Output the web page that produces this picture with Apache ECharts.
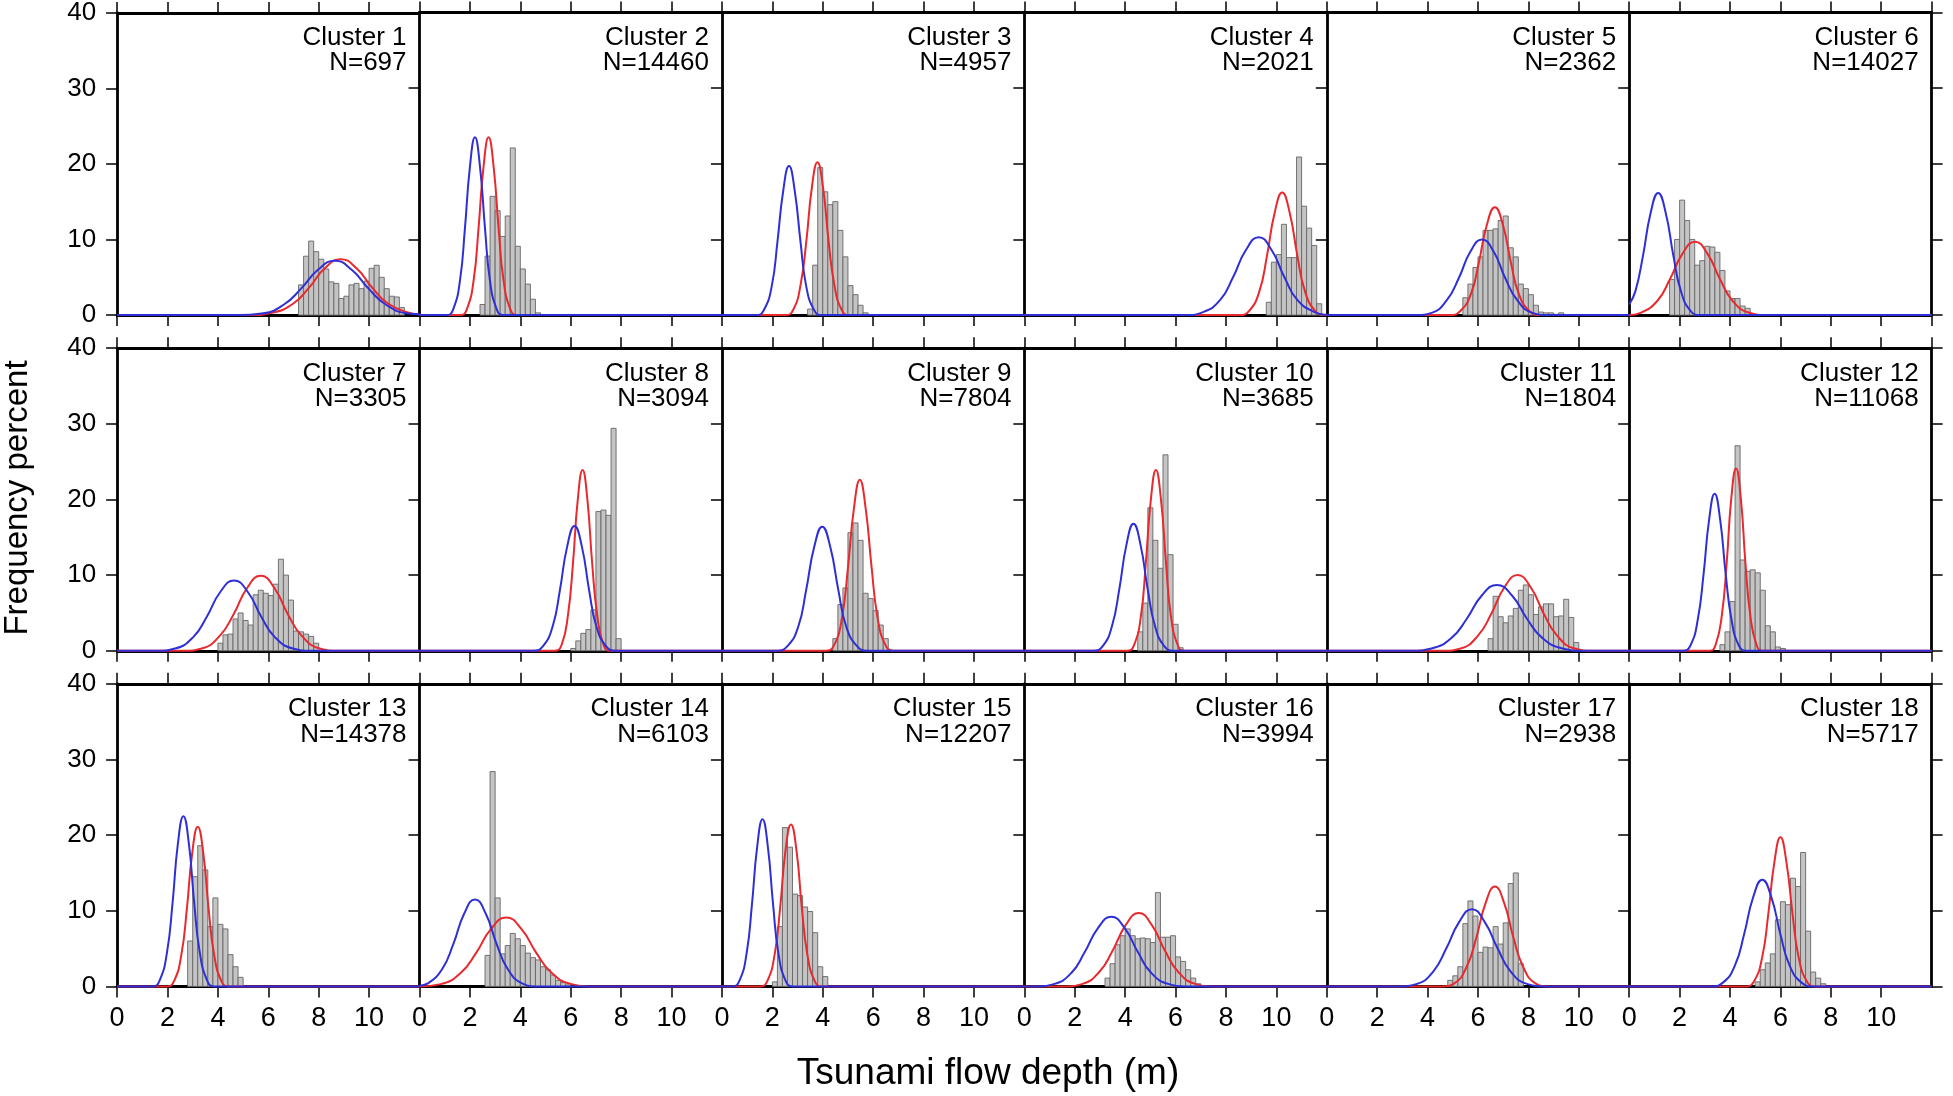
<!DOCTYPE html>
<html><head><meta charset="utf-8">
<script src="https://cdn.jsdelivr.net/npm/echarts@6/dist/echarts.min.js"></script>
<style>html,body{margin:0;padding:0;background:#fff}#c{width:1953px;height:1096px}</style>
</head><body><div id="c"></div>
<script>
// ---------------- DATA ----------------
const clusterNames = ['Cluster 1','Cluster 2','Cluster 3','Cluster 4','Cluster 5','Cluster 6','Cluster 7','Cluster 8','Cluster 9','Cluster 10','Cluster 11','Cluster 12','Cluster 13','Cluster 14','Cluster 15','Cluster 16','Cluster 17','Cluster 18'];
const clusterN = [697,14460,4957,2021,2362,14027,3305,3094,7804,3685,1804,11068,14378,6103,12207,3994,2938,5717];
const xTickValues = [0,2,4,6,8,10,12];
const yTickValues = [0,10,20,30,40];
const binWidth = 0.2;

// histogram: first bin left edge (m) for each cluster, and bar heights (%)
const histStart = [7.2,2.4,3.4,9.6,5.4,1.6,4.0,6.0,4.4,4.5,6.4,3.6,2.8,2.6,2.0,3.2,4.8,5.0];
const hist01 = [4.0,7.8,9.8,8.4,7.4,6.1,4.4,4.2,2.2,2.5,4.0,4.2,3.5,4.5,6.2,6.6,5.0,3.5,2.5,2.4,1.0];
const hist02 = [1.4,7.8,15.7,13.8,10.4,13.1,22.1,9.1,6.1,4.1,2.1,0.3];
const hist03 = [0.8,6.6,19.5,16.3,14.6,15.0,11.2,7.7,3.9,2.7,1.3,0.3];
const hist04 = [1.7,7.0,8.0,12.0,7.6,7.6,20.9,14.4,11.5,9.2,1.5];
const hist05 = [2.3,4.1,6.3,7.7,11.2,11.2,11.4,12.5,13.1,8.9,7.7,4.1,3.5,2.7,1.3,0.4,0.3,0.3,0.1,0.3];
const hist06 = [4.7,10.0,15.2,12.5,10.0,6.6,7.2,9.1,9.0,8.3,5.9,3.2,2.2,2.2,1.2,0.9];
const hist07 = [1.0,2.1,2.2,4.2,5.0,4.0,3.4,7.4,8.0,7.6,7.3,8.8,12.1,10.0,6.7,2.6,2.5,2.2,1.9,1.0];
const hist08 = [0.3,1.3,2.3,2.8,5.4,18.4,18.6,17.9,29.4,1.6];
const hist09 = [1.6,6.1,8.3,15.6,16.9,14.6,7.6,6.9,5.3,3.4,1.6];
const hist10 = [2.5,6.3,18.9,14.6,10.9,25.9,12.7,3.5,0.4];
const hist11 = [1.6,7.2,4.5,3.7,4.6,5.6,8.0,8.7,7.4,4.8,5.8,6.2,6.2,4.5,4.6,6.8,4.4,1.1];
const hist12 = [0.8,2.5,6.5,27.1,12.0,10.5,10.7,10.3,8.0,3.3,2.5,0.5,0.3];
const hist13 = [6.0,14.5,18.6,15.4,7.9,11.7,8.2,7.6,4.2,2.6,1.2];
const hist14 = [4.1,28.4,11.7,4.3,5.4,7.0,6.3,5.4,4.4,3.8,3.5,2.6,2.2,1.5,0.8,0.5,0.2];
const hist15 = [0.6,7.9,21.0,18.4,12.2,12.0,10.5,9.9,7.1,2.6,1.3];
const hist16 = [1.1,3.0,5.5,6.7,7.6,6.7,6.3,6.4,6.3,5.8,12.4,6.5,6.5,6.7,3.9,3.3,2.2,1.1,0.35];
const hist17 = [0.8,1.4,2.6,8.3,11.3,9.3,4.5,5.2,5.1,7.9,5.6,8.4,13.6,15.0,3.0];
const hist18 = [0.6,2.2,3.1,4.3,8.8,11.2,10.8,14.3,13.2,17.7,7.3,1.9,1.1,0.35];

// blue fitted curves, points [depth m, percent]
const blue01 = [[0,0],[4.83,0],[5.73,0.2],[6.62,1.4],[7.3,3.5],[7.97,6.0],[8.64,7.2],[9.31,6.0],[9.98,3.5],[10.66,1.4],[11.55,0.2],[12,0.1]];
const blue02 = [[0,0],[1.08,0],[1.34,0.8],[1.61,4.7],[1.8,11.4],[2.0,19.6],[2.2,23.5],[2.4,19.6],[2.6,11.4],[2.79,4.7],[3.06,0.8],[3.32,0],[12,0]];
const blue03 = [[0,0],[1.37,0],[1.67,0.7],[1.98,3.9],[2.2,9.6],[2.43,16.4],[2.66,19.7],[2.89,16.4],[3.12,9.6],[3.34,3.9],[3.65,0.7],[3.95,0],[12,0]];
const blue04 = [[0,0],[6.41,0],[7.09,0.4],[7.77,2.0],[8.28,5.0],[8.79,8.6],[9.3,10.3],[9.81,8.6],[10.32,5.0],[10.83,2.0],[11.51,0.4],[12,0]];
const blue05 = [[0,0],[3.54,0],[4.16,0.3],[4.77,2.0],[5.24,4.9],[5.7,8.4],[6.16,10.0],[6.62,8.4],[7.08,4.9],[7.55,2.0],[8.16,0.3],[8.78,0],[12,0]];
const blue06 = [[0,1.4],[0.25,3.2],[0.55,7.9],[0.85,13.5],[1.15,16.15],[1.45,13.5],[1.75,7.9],[2.05,3.2],[2.45,0.5],[2.85,0],[12,0]];
const blue07 = [[0,0],[1.58,0],[2.3,0.3],[3.02,1.8],[3.56,4.5],[4.1,7.8],[4.64,9.3],[5.18,7.8],[5.72,4.5],[6.26,1.8],[6.98,0.3],[7.7,0],[12,0]];
const blue08 = [[0,0],[4.52,0],[4.9,0.6],[5.29,3.3],[5.57,8.0],[5.86,13.8],[6.15,16.5],[6.44,13.8],[6.73,8.0],[7.01,3.3],[7.4,0.6],[7.78,0],[12,0]];
const blue09 = [[0,0],[2.18,0],[2.6,0.6],[3.03,3.2],[3.34,8.0],[3.66,13.7],[3.98,16.4],[4.3,13.7],[4.62,8.0],[4.93,3.2],[5.36,0.6],[5.78,0],[12,0]];
const blue10 = [[0,0],[2.73,0],[3.11,0.6],[3.48,3.3],[3.77,8.2],[4.05,14.0],[4.33,16.8],[4.61,14.0],[4.89,8.2],[5.18,3.3],[5.55,0.6],[5.93,0],[12,0]];
const blue11 = [[0,0],[3.35,0],[4.15,0.3],[4.95,1.7],[5.55,4.2],[6.15,7.3],[6.75,8.7],[7.35,7.3],[7.95,4.2],[8.55,1.7],[9.35,0.3],[10.15,0],[12,0]];
const blue12 = [[0,0],[2.13,0],[2.43,0.7],[2.72,4.1],[2.95,10.1],[3.17,17.3],[3.39,20.75],[3.61,17.3],[3.83,10.1],[4.06,4.1],[4.35,0.7],[4.65,0],[12,0]];
const blue13 = [[0,0],[1.41,0],[1.69,0.8],[1.98,4.5],[2.2,11.0],[2.41,18.8],[2.63,22.5],[2.85,18.8],[3.06,11.0],[3.28,4.5],[3.57,0.8],[3.85,0],[12,0]];
const blue14 = [[0,0.1],[0.33,0.4],[0.9,2.3],[1.34,5.6],[1.77,9.6],[2.2,11.5],[2.63,9.6],[3.06,5.6],[3.5,2.3],[4.07,0.4],[4.65,0],[12,0]];
const blue15 = [[0,0],[0.42,0],[0.7,0.8],[0.98,4.4],[1.19,10.8],[1.4,18.5],[1.61,22.1],[1.82,18.5],[2.03,10.8],[2.24,4.4],[2.52,0.8],[2.8,0],[12,0]];
const blue16 = [[0,0],[0.46,0],[1.16,0.3],[1.87,1.8],[2.39,4.5],[2.92,7.7],[3.45,9.2],[3.98,7.7],[4.51,4.5],[5.03,1.8],[5.74,0.3],[6.44,0],[12,0]];
const blue17 = [[0,0],[2.87,0],[3.55,0.3],[4.23,2.0],[4.74,5.0],[5.25,8.5],[5.76,10.2],[6.27,8.5],[6.78,5.0],[7.29,2.0],[7.97,0.3],[8.65,0],[12,0]];
const blue18 = [[0,0],[3.24,0],[3.72,0.5],[4.2,2.8],[4.56,6.9],[4.92,11.8],[5.28,14.1],[5.64,11.8],[6.0,6.9],[6.36,2.8],[6.84,0.5],[7.32,0],[12,0]];

// red fitted curves
const red01 = [[0,0],[5.3,0],[6.14,0.3],[6.98,1.5],[7.61,3.6],[8.24,6.2],[8.87,7.4],[9.5,6.2],[10.13,3.6],[10.76,1.5],[11.6,0.3],[12,0.1]];
const red02 = [[0,0],[1.62,0],[1.88,0.8],[2.15,4.7],[2.34,11.4],[2.54,19.6],[2.74,23.5],[2.94,19.6],[3.14,11.4],[3.33,4.7],[3.6,0.8],[3.86,0],[12,0]];
const red03 = [[0,0],[2.53,0],[2.83,0.7],[3.12,4.0],[3.35,9.8],[3.57,16.9],[3.79,20.2],[4.01,16.9],[4.23,9.8],[4.46,4.0],[4.75,0.7],[5.05,0],[12,0]];
const red04 = [[0,0],[8.53,0],[8.93,0.6],[9.33,3.2],[9.63,7.9],[9.93,13.5],[10.23,16.2],[10.53,13.5],[10.83,7.9],[11.13,3.2],[11.53,0.6],[11.93,0],[12,0]];
const red05 = [[0,0],[4.87,0],[5.29,0.5],[5.72,2.8],[6.03,6.9],[6.35,11.9],[6.67,14.25],[6.99,11.9],[7.31,6.9],[7.62,2.8],[8.05,0.5],[8.47,0],[12,0]];
const red06 = [[0,0],[0.45,0.3],[1.12,1.9],[1.61,4.7],[2.11,8.1],[2.61,9.7],[3.11,8.1],[3.61,4.7],[4.1,1.9],[4.77,0.3],[5.43,0],[12,0]];
const red07 = [[0,0],[2.64,0],[3.36,0.3],[4.08,2.0],[4.62,4.8],[5.16,8.3],[5.7,9.9],[6.24,8.3],[6.78,4.8],[7.32,2.0],[8.04,0.3],[8.76,0],[12,0]];
const red08 = [[0,0],[5.38,0],[5.64,0.8],[5.89,4.7],[6.09,11.6],[6.28,20.0],[6.47,23.9],[6.66,20.0],[6.85,11.6],[7.05,4.7],[7.3,0.8],[7.56,0],[12,0]];
const red09 = [[0,0],[4.14,0],[4.46,0.8],[4.77,4.5],[5.0,11.0],[5.24,18.9],[5.47,22.6],[5.7,18.9],[5.94,11.0],[6.17,4.5],[6.48,0.8],[6.8,0],[12,0]];
const red10 = [[0,0],[4.1,0],[4.36,0.8],[4.63,4.7],[4.82,11.6],[5.02,20.0],[5.22,23.9],[5.42,20.0],[5.62,11.6],[5.81,4.7],[6.08,0.8],[6.34,0],[12,0]];
const red11 = [[0,0],[4.61,0],[5.31,0.3],[6.0,2.0],[6.53,4.9],[7.05,8.4],[7.57,10.0],[8.09,8.4],[8.61,4.9],[9.14,2.0],[9.83,0.3],[10.53,0],[12,0]];
const red12 = [[0,0],[3.19,0],[3.43,0.8],[3.68,4.8],[3.87,11.7],[4.05,20.1],[4.24,24.1],[4.43,20.1],[4.61,11.7],[4.8,4.8],[5.05,0.8],[5.29,0],[12,0]];
const red13 = [[0,0],[1.98,0],[2.26,0.7],[2.55,4.2],[2.77,10.3],[2.98,17.6],[3.2,21.1],[3.42,17.6],[3.63,10.3],[3.85,4.2],[4.14,0.7],[4.42,0],[12,0]];
const red14 = [[0,0],[0.84,0.3],[1.64,1.8],[2.24,4.4],[2.84,7.6],[3.44,9.1],[4.04,7.6],[4.64,4.4],[5.24,1.8],[6.04,0.3],[6.84,0],[12,0]];
const red15 = [[0,0],[1.52,0],[1.8,0.7],[2.09,4.2],[2.31,10.4],[2.52,17.9],[2.74,21.4],[2.96,17.9],[3.17,10.4],[3.39,4.2],[3.68,0.7],[3.96,0],[12,0]];
const red16 = [[0,0],[1.58,0],[2.28,0.3],[2.97,1.9],[3.5,4.7],[4.02,8.1],[4.54,9.7],[5.06,8.1],[5.58,4.7],[6.11,1.9],[6.8,0.3],[7.5,0],[12,0]];
const red17 = [[0,0],[4.56,0],[5.06,0.4],[5.55,2.6],[5.93,6.4],[6.3,11.0],[6.67,13.2],[7.04,11.0],[7.41,6.4],[7.79,2.6],[8.28,0.4],[8.78,0],[12,0]];
const red18 = [[0,0],[4.64,0],[4.96,0.7],[5.28,3.9],[5.52,9.6],[5.76,16.4],[6.0,19.7],[6.24,16.4],[6.48,9.6],[6.72,3.9],[7.04,0.7],[7.36,0],[12,0]];

const xAxisTitle = 'Tsunami flow depth (m)';
const yAxisTitle = 'Frequency percent';

// ---------------- BUILD ----------------
const hists = [hist01,hist02,hist03,hist04,hist05,hist06,hist07,hist08,hist09,hist10,hist11,hist12,hist13,hist14,hist15,hist16,hist17,hist18];
const blues = [blue01,blue02,blue03,blue04,blue05,blue06,blue07,blue08,blue09,blue10,blue11,blue12,blue13,blue14,blue15,blue16,blue17,blue18];
const reds = [red01,red02,red03,red04,red05,red06,red07,red08,red09,red10,red11,red12,red13,red14,red15,red16,red17,red18];

const FONT = '"Liberation Sans", Arial, Helvetica, sans-serif';
const L0 = 117.1, PW = 302.42, T0 = 12.5, PH = 302.6, RP = 335.65;
const NCOL = 6, NROW = 3;
const BLUE = '#2f2fd6', RED = '#e8292e';

const grids = [], xAxes = [], yAxes = [], series = [], graphics = [];
const axisLine = {show: true, onZero: false, lineStyle: {color: '#000', width: 2.8}};
const axisTick = {show: true, inside: false, length: 11, lineStyle: {color: '#000', width: 1.5}};

for (let i = 0; i < 18; i++) {
  const r = Math.floor(i / NCOL), c = i % NCOL;
  const left = L0 + c * PW, top = T0 + r * RP;
  grids.push({left: left, top: top, width: PW, height: PH, containLabel: false});
  const xb = xAxes.length;
  xAxes.push({
    type: 'value', gridIndex: i, position: 'bottom', min: 0, max: 12, interval: 2,
    axisLine, axisTick, splitLine: {show: false},
    axisLabel: {show: r === NROW - 1, showMaxLabel: false, color: '#000', fontSize: 27, fontFamily: FONT, margin: 19,
      formatter: v => (xTickValues.indexOf(v) >= 0 && v < 12) ? String(v) : ''}
  });
  xAxes.push({
    type: 'value', gridIndex: i, position: 'top', min: 0, max: 12, interval: 2,
    axisLine, axisTick, splitLine: {show: false}, axisLabel: {show: false}
  });
  const yl = yAxes.length;
  yAxes.push({
    type: 'value', gridIndex: i, position: 'left', min: 0, max: 40, interval: 10,
    axisLine, axisTick, splitLine: {show: false},
    axisLabel: {show: c === 0, color: '#000', fontSize: 26, fontFamily: FONT, margin: 21,
      formatter: v => yTickValues.indexOf(v) >= 0 ? String(v) : ''}
  });
  if (c === NCOL - 1) {
    yAxes.push({
      type: 'value', gridIndex: i, position: 'right', min: 0, max: 40, interval: 10,
      axisLine, axisTick, splitLine: {show: false}, axisLabel: {show: false}
    });
  }
  const hdata = hists[i].map((v, k) => [histStart[i] + k * binWidth, histStart[i] + (k + 1) * binWidth, v]);
  series.push({
    type: 'custom', xAxisIndex: xb, yAxisIndex: yl, z: 2, clip: false,
    encode: {x: [0, 1], y: 2},
    data: hdata,
    renderItem: (params, api) => {
      const p0 = api.coord([api.value(0), api.value(2)]);
      const p1 = api.coord([api.value(1), 0]);
      return {type: 'rect', shape: {x: p0[0], y: p0[1], width: p1[0] - p0[0], height: p1[1] - p0[1]},
        style: {fill: '#c4c4c4', stroke: '#666666', lineWidth: 0.9}};
    }
  });
  series.push({type: 'line', xAxisIndex: xb, yAxisIndex: yl, data: reds[i], smooth: true, showSymbol: false, clip: false, z: 3,
    lineStyle: {color: RED, width: 2}, itemStyle: {color: RED}});
  series.push({type: 'line', xAxisIndex: xb, yAxisIndex: yl, data: blues[i], smooth: true, showSymbol: false, clip: false, z: 4,
    lineStyle: {color: BLUE, width: 2}, itemStyle: {color: BLUE}});

  graphics.push({type: 'text', x: left + PW - 13, y: top + 25.5, z: 10,
    style: {text: clusterNames[i], fill: '#000', font: '26px ' + FONT, align: 'right', verticalAlign: 'middle'}});
  graphics.push({type: 'text', x: left + PW - 13, y: top + 50.8, z: 10,
    style: {text: 'N=' + clusterN[i], fill: '#000', font: '26px ' + FONT, align: 'right', verticalAlign: 'middle'}});
}
graphics.push({type: 'text', x: 988, y: 1074, style: {text: xAxisTitle, fill: '#000', font: '37px ' + FONT, align: 'center', verticalAlign: 'middle'}});
graphics.push({type: 'text', x: 18, y: 498, rotation: Math.PI / 2, style: {text: yAxisTitle, fill: '#000', font: '33px ' + FONT, align: 'center', verticalAlign: 'middle'}});

const chart = echarts.init(document.getElementById('c'), null, {renderer: 'canvas'});
chart.setOption({
  animation: false,
  backgroundColor: '#fff',
  grid: grids, xAxis: xAxes, yAxis: yAxes, series: series, graphic: graphics
});
</script></body></html>
